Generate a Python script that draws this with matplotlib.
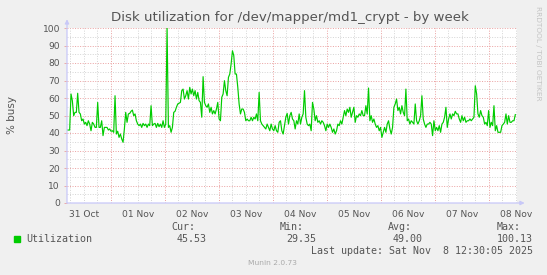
import datetime as dt

import matplotlib
matplotlib.use("Agg")
import matplotlib.pyplot as plt
import matplotlib.dates as mdates
import numpy as np

W, H = 547, 275
BG = "#f0f0f0"
GREEN = "#00cc00"
TXT = "#555555"
AXC = "#c8c8f8"
MGRID = "#eaa0a0"
GRID = "#d4d4d4"

TITLE = "Disk utilization for /dev/mapper/md1_crypt - by week"
YLABEL = "% busy"

# time window shown (Munin week view)
START = dt.datetime(2025, 10, 31, 4, 30)
END = dt.datetime(2025, 11, 8, 12, 30)

# % busy samples (evenly spaced in time)
UTIL_A = [41.7, 41.7, 41.7, 62.3, 58.5, 49.9, 51.8, 51.8, 62.7, 51.8,
          50.9, 47.0, 48.0, 45.1, 46.1, 44.2, 47.0, 45.1, 41.3, 46.1,
          45.1, 43.2, 43.2, 57.5, 43.2, 43.2, 47.0, 38.5, 43.2, 43.2,
          43.2, 41.7, 42.3, 41.0, 41.3, 40.4, 61.3, 39.4, 41.0, 37.5,
          39.4, 36.6, 34.7, 42.3, 51.8, 46.1, 50.9, 51.2, 52.4, 53.1,
          49.9, 50.9, 47.0, 45.1, 44.2, 45.1, 43.2, 45.5, 44.2, 45.1,
          43.2, 45.1, 44.2, 55.6, 44.2, 45.1, 45.5, 43.2, 45.5, 43.6,
          45.1, 43.2, 47.0, 43.2, 45.1, 100.1, 43.2, 44.2, 40.4, 43.2,
          51.8, 52.4, 54.7, 56.6, 57.0, 57.5, 64.2]
UTIL_B = [65.1, 59.4, 61.3, 64.2, 59.4, 66.1, 62.3, 65.1, 61.3, 64.2,
          59.4, 63.2, 58.5, 57.5, 49.0, 72.2, 57.5, 55.6, 54.7, 56.6,
          51.8, 54.7, 50.9, 52.8, 50.9, 53.7, 57.5, 48.0, 47.0, 60.4,
          62.3, 69.9, 64.2, 61.3, 71.8, 73.7, 79.4, 87.0, 84.2, 73.7,
          73.7, 66.1, 56.6, 50.9, 53.7, 53.7, 51.8, 47.0, 48.0, 47.0,
          47.0, 49.0, 47.0, 49.0, 48.0, 50.9, 47.0, 63.2, 47.0, 45.1,
          44.2, 43.2, 42.3, 45.1, 43.2, 41.3, 45.1, 42.3, 41.3, 44.2,
          41.3, 40.4, 46.1, 47.0, 41.3, 39.4, 44.2, 49.0, 51.2, 45.1,
          49.9, 51.8, 48.0, 47.0, 42.3]
UTIL_C = [47.0, 45.1, 50.9, 45.1, 49.0, 50.9, 64.2, 49.0, 45.1, 44.2,
          45.1, 41.3, 57.5, 53.7, 47.0, 49.9, 46.1, 47.0, 45.1, 47.0,
          46.1, 44.2, 41.3, 45.1, 43.2, 45.1, 43.2, 40.4, 42.3, 39.4,
          41.3, 45.1, 44.2, 47.0, 45.1, 49.0, 52.8, 49.9, 53.7, 51.8,
          54.7, 49.0, 51.8, 54.7, 46.1, 49.9, 49.0, 50.9, 49.9, 52.8,
          49.9, 49.9, 55.6, 50.9, 65.7, 47.0, 49.9, 46.1, 48.0, 45.1,
          43.2, 44.2, 41.3, 43.2, 37.5, 40.4, 43.2, 40.4, 45.1, 47.0,
          42.3, 39.4, 43.2, 54.7, 56.6, 59.4, 52.8, 54.7, 50.9, 55.6,
          51.8, 49.9, 65.1, 47.0, 48.0]
UTIL_D = [45.1, 47.0, 46.1, 45.1, 56.6, 47.0, 45.1, 47.0, 49.9, 61.3,
          48.0, 45.1, 43.2, 45.1, 45.1, 46.1, 45.1, 38.5, 47.0, 41.3,
          43.2, 41.3, 44.2, 40.4, 45.1, 46.1, 49.0, 54.7, 43.2, 48.0,
          50.9, 48.0, 50.9, 49.9, 52.4, 50.9, 50.9, 48.0, 46.1, 49.9,
          47.0, 49.0, 46.1, 47.0, 47.0, 48.0, 47.0, 48.0, 49.0, 67.0,
          62.3, 50.9, 49.0, 52.8, 49.9, 49.0, 45.1, 46.1, 44.2, 52.8,
          43.2, 46.1, 44.2, 55.6, 41.3, 44.2, 40.4, 40.4, 40.4, 44.2,
          45.1, 46.1, 50.9, 45.1, 49.9, 46.1, 46.1, 47.0, 47.0, 50.5]

SERIES_NAME = "Utilization"
STAT_NAMES = ["Cur:", "Min:", "Avg:", "Max:"]
STAT_VALUES = ["45.53", "29.35", "49.00", "100.13"]
LAST_UPDATE = "Last update: Sat Nov  8 12:30:05 2025"


def fx(x):
    return x / W


def fy(y):
    return 1 - y / H


util = np.array(UTIL_A + UTIL_B + UTIL_C + UTIL_D)
times = [START + dt.timedelta(hours=float(h))
         for h in np.linspace(0, 199.25, len(util))]

fig = plt.figure(figsize=(W / 100, H / 100), dpi=100, facecolor=BG)
ax = fig.add_axes([fx(67), fy(203), 450 / W, 175 / H])
ax.set_facecolor("white")
ax.set_xlim(START, END)
ax.set_ylim(0, 100)

# grid: gray every 5 / 6h, red every 10 / midnight
dash = (0, (1, 1.6))
for v in range(5, 101, 5):
    major = v % 10 == 0
    ax.axhline(v, color=MGRID if major else GRID, lw=0.7, ls=dash, zorder=1)
t = START.replace(hour=0, minute=0) + dt.timedelta(hours=6)
while t < END:
    ax.axvline(t, color=MGRID if t.hour == 0 else GRID, lw=0.7, ls=dash, zorder=1)
    t += dt.timedelta(hours=6)

ax.plot(times, util, color=GREEN, lw=0.85, zorder=3)

for s in ax.spines.values():
    s.set_visible(False)
ax.annotate("", xy=(0, 1.05), xytext=(0, 0), xycoords="axes fraction",
            arrowprops=dict(arrowstyle="-|>", color=AXC, lw=0.9, mutation_scale=6,
                            shrinkA=0, shrinkB=0), annotation_clip=False)
ax.annotate("", xy=(1.017, 0), xytext=(0, 0), xycoords="axes fraction",
            arrowprops=dict(arrowstyle="-|>", color=AXC, lw=0.9, mutation_scale=6,
                            shrinkA=0, shrinkB=0), annotation_clip=False)

ax.set_yticks(range(0, 101, 10))
ax.tick_params(axis="y", length=2, width=0.6, color=MGRID, pad=3,
               labelsize=6.6, labelcolor=TXT)
ax.xaxis.set_major_locator(mdates.HourLocator(byhour=12))
ax.xaxis.set_major_formatter(mdates.DateFormatter("%d %b"))
ax.tick_params(axis="x", length=0, pad=5, labelsize=6.6, labelcolor=TXT)

fig.text(fx(290), fy(17), TITLE, ha="center", va="center", fontsize=9.6, color=TXT)
fig.text(fx(12), fy(115), YLABEL, ha="center", va="center", rotation=90,
         fontsize=7.5, color=TXT)
fig.text(fx(538), fy(53), "RRDTOOL / TOBI OETIKER", ha="center", va="center",
         rotation=270, fontsize=5.3, color="#c4c4c4")

mono = dict(family="DejaVu Sans Mono", fontsize=7.2, color=TXT, va="center")
fig.patches.append(plt.Rectangle((fx(14), fy(242)), 6 / W, 6 / H,
                                 transform=fig.transFigure, color=GREEN, figure=fig))
fig.text(fx(26), fy(239), SERIES_NAME, ha="left", **mono)
for name, val, lx, rx in zip(STAT_NAMES, STAT_VALUES, [171, 280, 388, 497],
                             [207, 316, 423, 533]):
    fig.text(fx(lx), fy(227), name, ha="left", **mono)
    fig.text(fx(rx), fy(239), val, ha="right", **mono)
fig.text(fx(533), fy(251), LAST_UPDATE, ha="right", **mono)
fig.text(fx(272), fy(263), "Munin 2.0.73", ha="center", va="center",
         fontsize=5.4, color="#aaaaaa")

fig.savefig("out.png", dpi=100, facecolor=BG)
